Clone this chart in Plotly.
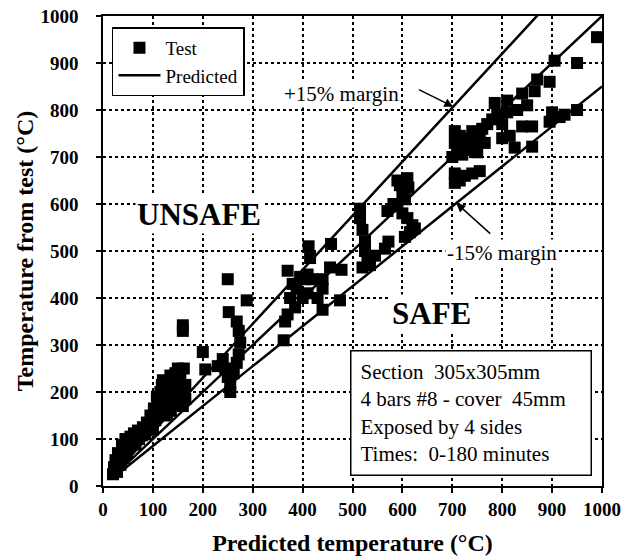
import plotly.graph_objects as go

# Measured vs predicted temperatures (°C)
test_x = [
    20, 22, 25, 28, 30, 35, 38, 42, 45, 50, 55, 60, 62, 70, 72, 80, 85, 88, 95, 98,
    102, 105, 110, 112, 115, 118, 122, 125, 128, 130, 133, 136, 140, 142, 145, 148,
    150, 152, 155, 158, 160, 162, 165, 160, 160,
    108, 120, 135, 150, 140, 125, 155, 165, 92, 78, 65, 48, 32, 100,
    200, 205, 240, 245, 250, 255, 255, 250, 252, 268, 272, 275, 272, 268, 288, 262, 230,
    362, 365, 370, 375, 380, 370, 385, 388, 395, 405, 410, 400, 412, 415, 410, 440,
    440, 440, 455, 457, 478, 475, 430, 420,
    515, 515, 520, 525, 525, 530, 520, 535, 545, 565, 572, 570, 582, 590, 595, 600,
    605, 590, 600, 610, 620, 615, 625, 605, 610, 612,
    705, 705, 715, 725, 740, 755, 700, 710, 705, 715, 720, 730, 735, 740, 745, 750,
    755, 760, 765, 705, 720,
    770, 780, 790, 800, 785, 810, 810, 815, 825, 800, 840, 850, 865, 870, 895, 840,
    860, 860, 900, 915, 925, 895, 950, 905, 950, 990, 830,
]
test_y = [
    25, 40, 55, 30, 70, 45, 88, 60, 100, 80, 105, 95, 112, 118, 100, 125, 110, 135, 150, 130,
    165, 140, 160, 180, 200, 215, 190, 170, 150, 210, 185, 160, 225, 200, 240, 175,
    215, 190, 230, 205, 170, 250, 185, 330, 342,
    190, 225, 235, 250, 185, 205, 195, 215, 120, 108, 88, 70, 58, 120,
    285, 248, 270, 250, 232, 215, 200, 440, 370, 350, 330, 305, 280, 262, 395, 240, 255,
    310, 350, 365, 400, 430, 458, 380, 420, 445, 440, 410, 400, 510, 485, 450, 440,
    420, 375, 465, 515, 460, 395, 400, 440,
    590, 570, 545, 520, 500, 480, 465, 470, 490, 505, 520, 585, 600, 650, 640, 625,
    610, 595, 580, 570, 555, 540, 548, 530, 655, 635,
    645, 665, 650, 660, 665, 670, 700, 712, 730, 745, 725, 740, 715, 755, 730, 710,
    745, 760, 730, 755, 705,
    770, 780, 790, 770, 815, 820, 795, 745, 720, 740, 835, 810, 840, 865, 860, 765,
    765, 722, 795, 785, 790, 775, 800, 905, 900, 955, 800,
]

# Prediction line and ±15 % margins
line_x = [20, 1000]
margins = [1.0, 1.15, 0.85]

SERIF = "Liberation Serif"

fig = go.Figure()

fig.add_trace(go.Scatter(
    x=test_x, y=test_y, mode="markers", name="Test",
    marker=dict(symbol="square", size=12, color="black", line=dict(width=0)),
))

for i, m in enumerate(margins):
    fig.add_trace(go.Scatter(
        x=line_x, y=[x * m for x in line_x], mode="lines",
        name="Predicted", showlegend=(i == 0),
        line=dict(color="black", width=2.5),
    ))

axis_common = dict(
    range=[0, 1000], tickmode="linear", tick0=0, dtick=100,
    showgrid=True, gridcolor="black", gridwidth=1.5, griddash="dot",
    zeroline=False, showline=True,
    linecolor="black", linewidth=1.5, mirror=True, ticks="outside", ticklen=5,
    tickcolor="black", tickwidth=1.5,
    tickfont=dict(family=SERIF, size=19, color="black", weight="bold"),
)

fig.update_layout(
    width=638, height=560,
    margin=dict(l=103, r=36, t=16, b=74),
    paper_bgcolor="white", plot_bgcolor="white",
    xaxis=dict(
        **axis_common,
        title=dict(text="Predicted temperature (°C)", standoff=16,
                   font=dict(family=SERIF, size=24, color="black", weight="bold")),
        automargin=False,
    ),
    yaxis=dict(
        **axis_common,
        title=dict(text="Temperature from test (°C)", standoff=0,
                   font=dict(family=SERIF, size=24, color="black", weight="bold")),
        automargin=False, ticklabelstandoff=14,
    ),
    legend=dict(
        x=0.018, y=0.976, xanchor="left", yanchor="top",
        bgcolor="white", bordercolor="black", borderwidth=1.5,
        font=dict(family=SERIF, size=19, color="black"),
        itemwidth=42, tracegroupgap=0,
    ),
    showlegend=True,
)

label_font = dict(family=SERIF, size=21, color="black")
zone_font = dict(family=SERIF, size=31, color="black", weight="bold")

fig.add_annotation(x=193, y=577, text="UNSAFE", showarrow=False,
                   font=zone_font, bgcolor="white", borderpad=1)
fig.add_annotation(x=659, y=366, text="SAFE", showarrow=False,
                   font=zone_font, bgcolor="white", borderpad=1)
fig.add_annotation(x=478, y=835, text="+15% margin", showarrow=False,
                   font=label_font, bgcolor="white", borderpad=1)
fig.add_annotation(x=799, y=495, text="-15% margin", showarrow=False,
                   font=label_font, bgcolor="white", borderpad=1)

# Arrows pointing at the margin lines
fig.add_annotation(x=702, y=807, ax=630, ay=845, axref="x", ayref="y",
                   xref="x", yref="y", text="", showarrow=True,
                   arrowhead=2, arrowsize=1.2, arrowwidth=1.5, arrowcolor="black")
fig.add_annotation(x=708, y=602, ax=779, ay=534, axref="x", ayref="y",
                   xref="x", yref="y", text="", showarrow=True,
                   arrowhead=2, arrowsize=1.2, arrowwidth=1.5, arrowcolor="black")

fig.add_annotation(
    x=737, y=156, xref="x", yref="y",
    text=("Section\u00a0\u00a0305x305mm<br>4 bars #8 - cover\u00a0\u00a045mm"
          "<br>Exposed by 4 sides<br>Times:\u00a0\u00a00-180 minutes"),
    showarrow=False, align="left", valign="middle",
    width=221, height=105, borderpad=9,
    bgcolor="white", bordercolor="black", borderwidth=1.5,
    font=dict(family=SERIF, size=21, color="black"),
)

fig.write_html("out.html")
